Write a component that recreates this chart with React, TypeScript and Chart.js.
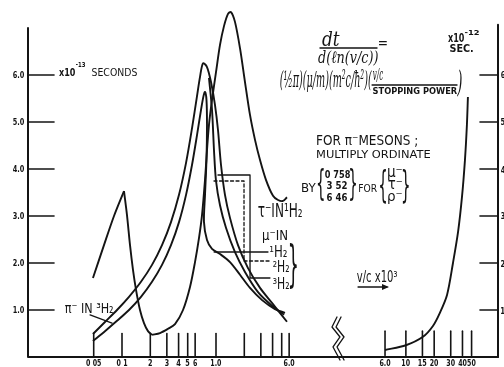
import React, { useEffect, useRef } from "react";
import { Chart, registerables } from "chart.js";

Chart.register(...registerables);

// x: v/c (log scale, broken); right-hand section is shifted by this many decades
const RIGHT_SECTION_SHIFT = 1.02;

// tau- in 1H2 : low-velocity spike, fall to the minimum, main peak
const tauRiseV = [0.0491, 0.0643, 0.0822, 0.105];
const tauRiseT = [1.68, 2.38, 3.0, 3.53];
const tauFallV = [0.105, 0.113, 0.1217, 0.131, 0.141, 0.1554, 0.1714, 0.189, 0.2086];
const tauFallT = [3.53, 3.02, 2.38, 1.85, 1.43, 1.0, 0.72, 0.55, 0.47];
const tauPeakV = [0.2086, 0.2537, 0.3086, 0.3664, 0.4457, 0.529, 0.598, 0.659, 0.71, 0.764, 0.802, 0.842, 0.907, 1.0, 1.103, 1.216, 1.342, 1.444, 1.592, 1.8, 2.034, 2.3, 2.6, 2.94, 3.4, 4.04, 4.57, 5.16, 5.69];
const tauPeakT = [0.47, 0.51, 0.6, 0.7, 1.0, 1.49, 2.02, 2.53, 3.02, 3.77, 4.4, 4.94, 5.47, 6.06, 6.64, 7.04, 7.3, 7.34, 7.13, 6.57, 5.85, 5.15, 4.62, 4.19, 3.77, 3.43, 3.34, 3.32, 3.4];

// wide-peaked curve (upper smooth branch)
const wideV = [0.0491, 0.0659, 0.0885, 0.1187, 0.1592, 0.2086, 0.2664, 0.332, 0.404, 0.48, 0.556, 0.628, 0.676, 0.728, 0.802, 0.885, 0.976, 1.05, 1.13, 1.246, 1.409, 1.714, 2.19, 2.94, 3.94, 5.69];
const wideT = [0.49, 0.745, 1.0, 1.28, 1.6, 1.96, 2.38, 2.87, 3.45, 4.13, 4.87, 5.55, 5.96, 6.25, 6.17, 5.85, 5.36, 4.83, 4.09, 3.45, 2.96, 2.38, 1.89, 1.47, 1.15, 0.75];

// narrow-peaked curve with shoulder (lower smooth branch)
const narrowV = [0.0491, 0.0659, 0.0885, 0.1187, 0.1592, 0.2086, 0.2664, 0.332, 0.404, 0.48, 0.556, 0.628, 0.693, 0.736, 0.764, 0.792, 0.802, 0.792, 0.764, 0.745, 0.802, 0.907, 1.103, 1.409, 1.8, 2.3, 3.09, 4.24, 5.42];
const narrowT = [0.34, 0.55, 0.77, 1.0, 1.28, 1.6, 1.96, 2.38, 2.87, 3.45, 4.09, 4.72, 5.26, 5.55, 5.64, 5.47, 4.94, 4.19, 3.45, 2.87, 2.49, 2.3, 2.19, 2.02, 1.75, 1.47, 1.21, 1.02, 0.94];

// descending branch between them
const branchV = [0.842, 0.907, 0.952, 1.0, 1.103, 1.277, 1.592, 2.034, 2.8, 3.94, 5.3];
const branchT = [5.94, 5.26, 4.4, 3.75, 3.23, 2.75, 2.23, 1.81, 1.38, 1.09, 0.9];

// right-hand section (×10⁻¹² s)
const highV = [6.0, 10.0, 15.2, 19.4, 23.0, 27.4, 31.7, 35.9, 39.5, 42.5, 44.6, 45.7];
const highT = [0.15, 0.25, 0.43, 0.66, 0.94, 1.32, 2.0, 2.66, 3.4, 4.19, 4.94, 5.53];

// ticks
const xTicksLeft = [0.05, 0.1, 0.2, 0.3, 0.4, 0.5, 0.6, 1, 2, 3, 4, 5, 6];
const xTickLabelsLeft = ["0 05", "0 1", "2", "3", "4", "5", "6", "1.0", "", "", "", "", "6.0"];
const xTicksRight = [6, 10, 15, 20, 30, 40, 50];
const xTickLabelsRight = ["6.0", "10", "15", "20", "30", "40", "50"];
const yTicks = [1, 2, 3, 4, 5, 6];
const yTickLabelsLeft = ["1.0", "2.0", "3.0", "4.0", "5.0", "6.0"];
const yTickLabelsRight = ["1", "2", "3", "4", "5", "6"];

const INK = "#141414";
const SANS = "'DejaVu Sans'";
const SB = `bold 40px ${SANS}`;
const SN = `40px ${SANS}`;
const SERIF_IT = "italic 40px 'DejaVu Serif'";

const toPts = (v: number[], t: number[], shift = 0) =>
  v.map((vv, i) => ({ x: Math.log10(vv) + shift, y: t[i] }));

const curve = (data: { x: number; y: number }[]) => ({
  data,
  borderColor: INK,
  borderWidth: 1.9,
  pointRadius: 0,
  tension: 0.3,
  fill: false,
  clip: false as any,
});

function fitText(ctx: CanvasRenderingContext2D, text: string, font: string, left: number, top: number, w: number, h: number) {
  ctx.save();
  ctx.font = font;
  ctx.textAlign = "left";
  ctx.textBaseline = "alphabetic";
  const m = ctx.measureText(text);
  const inkW = m.actualBoundingBoxLeft + m.actualBoundingBoxRight;
  const inkH = m.actualBoundingBoxAscent + m.actualBoundingBoxDescent;
  const sx = w / inkW;
  const sy = h / inkH;
  ctx.translate(left + m.actualBoundingBoxLeft * sx, top + m.actualBoundingBoxAscent * sy);
  ctx.scale(sx, sy);
  ctx.fillText(text, 0, 0);
  ctx.restore();
}

function fitH(ctx: CanvasRenderingContext2D, text: string, font: string, anchorX: number, top: number, h: number, squeeze: number, align: "center" | "right" | "left") {
  ctx.save();
  ctx.font = font;
  ctx.textAlign = "left";
  ctx.textBaseline = "alphabetic";
  const m = ctx.measureText(text);
  const inkW = m.actualBoundingBoxLeft + m.actualBoundingBoxRight;
  const inkH = m.actualBoundingBoxAscent + m.actualBoundingBoxDescent;
  const sy = h / inkH;
  const sx = sy * squeeze;
  const w = inkW * sx;
  const left = align === "center" ? anchorX - w / 2 : align === "right" ? anchorX - w : anchorX;
  ctx.translate(left + m.actualBoundingBoxLeft * sx, top + m.actualBoundingBoxAscent * sy);
  ctx.scale(sx, sy);
  ctx.fillText(text, 0, 0);
  ctx.restore();
}

// annotation texts: [text, font, left (x units), top (y units), width px, height px]
const notes: [string, string, number, number, number, number][] = [
  ["x10", SB, -1.67, 6.17, 16, 9],
  ["-13", SB, -1.489, 6.277, 9, 5],
  ["SECONDS", SN, -1.319, 6.149, 45, 8],
  ["dt", SERIF_IT, 1.128, 6.915, 18, 15],
  ["d(ℓn(v/c))", SERIF_IT, 1.085, 6.532, 60, 16],
  ["=", SN, 1.734, 6.702, 8, 4],
  ["(½π)(μ/m)(m²c/ħ²)(", SERIF_IT, 0.681, 6.106, 92, 22],
  ["v/c", SERIF_IT, 1.67, 6.128, 10, 13],
  ["STOPPING POWER", SB, 1.67, 5.745, 84, 7],
  [")", SERIF_IT, 2.564, 6.106, 5, 27],
  ["x10", SB, 2.468, 6.915, 16, 10],
  ["-12", SB, 2.649, 6.979, 14, 6],
  ["SEC.", SB, 2.489, 6.681, 23, 9],
  ["FOR π⁻MESONS ;", SN, 1.074, 4.723, 100, 12],
  ["MULTIPLY ORDINATE", SN, 1.074, 4.426, 113, 9],
  ["BY", SN, 0.915, 3.702, 14, 9],
  ["{", SN, 1.085, 4.021, 6, 33],
  ["0 758", SB, 1.16, 3.979, 25, 8],
  ["3 52", SB, 1.181, 3.745, 20, 8],
  ["6 46", SB, 1.181, 3.489, 20, 8],
  ["}", SN, 1.426, 4.021, 6, 33],
  ["FOR", SN, 1.521, 3.702, 18, 9],
  ["{", SN, 1.745, 4.021, 6, 35],
  ["μ⁻", SN, 1.83, 4.021, 14, 12],
  ["τ⁻", SN, 1.83, 3.766, 14, 9],
  ["ρ⁻", SN, 1.83, 3.489, 14, 11],
  ["}", SN, 1.989, 4.021, 6, 35],
  ["τ⁻IN¹H₂", SN, 0.447, 3.298, 44, 15],
  ["μ⁻IN", SN, 0.5, 2.702, 24, 13],
  ["¹H₂", SN, 0.574, 2.383, 17, 12],
  ["²H₂", SN, 0.606, 2.064, 16, 12],
  ["³H₂", SN, 0.606, 1.702, 16, 12],
  ["}", SN, 0.787, 2.447, 7, 48],
  ["π⁻ IN ³H₂", SN, -1.606, 1.17, 48, 11],
  ["v/c x10³", SN, 1.5, 1.851, 40, 14],
];

// leader lines (x units, y units); dashed flag
const leaders: { pts: [number, number][]; dash: boolean }[] = [
  { pts: [[1.106, 6.574], [1.713, 6.574]], dash: false },
  { pts: [[1.66, 5.787], [2.564, 5.787]], dash: false },
  { pts: [[-1.34, 0.894], [-1.106, 0.723]], dash: false },
  { pts: [[-0.02, 2.234], [0.553, 2.234]], dash: false },
  { pts: [[-0.021, 3.745], [0.298, 3.745], [0.298, 2.043], [0.574, 2.043]], dash: true },
  { pts: [[0.021, 3.872], [0.362, 3.872], [0.362, 1.681], [0.574, 1.681]], dash: false },
  { pts: [[1.511, 1.489], [1.819, 1.489]], dash: false },
  { pts: [[1.287, 0.851], [1.234, 0.638], [1.319, 0.426], [1.245, 0.213], [1.319, -0.064]], dash: false },
  { pts: [[1.33, 0.851], [1.277, 0.638], [1.362, 0.426], [1.288, 0.213], [1.362, -0.064]], dash: false },
];

const decorations = {
  id: "decorations",
  beforeDraw(chart: any) {
    const ctx = chart.ctx as CanvasRenderingContext2D;
    ctx.save();
    ctx.fillStyle = "#fff";
    ctx.fillRect(0, 0, chart.width, chart.height);
    ctx.restore();
  },
  afterDraw(chart: any) {
    const ctx = chart.ctx as CanvasRenderingContext2D;
    const xs = chart.scales.x;
    const ys = chart.scales.y;
    const X = (u: number) => xs.getPixelForValue(u);
    const Y = (t: number) => ys.getPixelForValue(t);
    const poly = (pts: [number, number][]) => {
      ctx.beginPath();
      pts.forEach(([a, b], i) => (i ? ctx.lineTo(a, b) : ctx.moveTo(a, b)));
      ctx.stroke();
    };
    ctx.save();
    ctx.strokeStyle = INK;
    ctx.fillStyle = INK;
    ctx.lineCap = "round";
    ctx.lineJoin = "round";

    // axes
    ctx.lineWidth = 2;
    poly([[X(-2), Y(7)], [X(-2), Y(0)], [X(3), Y(0)]]);
    poly([[X(3), Y(7.07)], [X(3), Y(0)]]);

    // y ticks
    ctx.lineWidth = 1.6;
    yTicks.forEach((t, i) => {
      poly([[X(-2), Y(t)], [X(-2) + 26, Y(t)]]);
      poly([[X(3) - 18, Y(t)], [X(3), Y(t)]]);
      fitH(ctx, yTickLabelsLeft[i], SB, X(-2) - 4, Y(t) - 3.5, 7, 0.75, "right");
      fitH(ctx, yTickLabelsRight[i], SB, X(3) + 3, Y(t) - 3.5, 7, 0.75, "left");
    });

    // x ticks
    xTicksLeft.forEach((v, i) => {
      const u = Math.log10(v);
      poly([[X(u), Y(0)], [X(u), Y(0.5)]]);
      if (xTickLabelsLeft[i]) fitH(ctx, xTickLabelsLeft[i], SB, X(u), Y(0) + 2, 7, 0.72, "center");
    });
    xTicksRight.forEach((v, i) => {
      const u = Math.log10(v) + RIGHT_SECTION_SHIFT;
      poly([[X(u), Y(0.03)], [X(u), Y(0.55)]]);
      fitH(ctx, xTickLabelsRight[i], SB, X(u), Y(0) + 2, 7, 0.72, "center");
    });

    // leader lines
    ctx.lineWidth = 1.3;
    leaders.forEach((l) => {
      ctx.setLineDash(l.dash ? [3, 2.5] : []);
      poly(l.pts.map(([u, t]) => [X(u), Y(t)] as [number, number]));
    });
    ctx.setLineDash([]);
    // arrow head
    const ax = X(1.819), ay = Y(1.489);
    ctx.beginPath();
    ctx.moveTo(ax + 2, ay);
    ctx.lineTo(ax - 5, ay - 3);
    ctx.lineTo(ax - 5, ay + 3);
    ctx.closePath();
    ctx.fill();

    // texts
    notes.forEach(([text, font, u, t, w, h]) => fitText(ctx, text, font, X(u), Y(t), w, h));
    ctx.restore();
  },
};

export default function App() {
  const ref = useRef<HTMLCanvasElement>(null);
  useEffect(() => {
    const datasets = [
      curve(toPts(tauRiseV, tauRiseT)),
      curve(toPts(tauFallV, tauFallT)),
      curve(toPts(tauPeakV, tauPeakT)),
      curve(toPts(wideV, wideT)),
      curve(toPts(narrowV, narrowT)),
      curve(toPts(branchV, branchT)),
      curve(toPts(highV, highT, RIGHT_SECTION_SHIFT)),
    ];
    const chart = new Chart(ref.current as HTMLCanvasElement, {
      type: "line",
      data: { datasets: datasets as any },
      options: {
        responsive: false,
        animation: false,
        devicePixelRatio: 1,
        events: [],
        layout: { padding: { left: 28, right: 6, top: 28, bottom: 10 } },
        plugins: { legend: { display: false }, tooltip: { enabled: false }, title: { display: false } },
        scales: {
          x: { type: "linear", min: -2, max: 3, display: false },
          y: { type: "linear", min: 0, max: 7, display: false },
        },
      },
      plugins: [decorations],
    });
    return () => chart.destroy();
  }, []);
  return (
    <div style={{ position: "fixed", left: 0, top: 0, width: 504, height: 367, background: "#fff" }}>
      <canvas ref={ref} width={504} height={367} style={{ display: "block" }} />
    </div>
  );
}
